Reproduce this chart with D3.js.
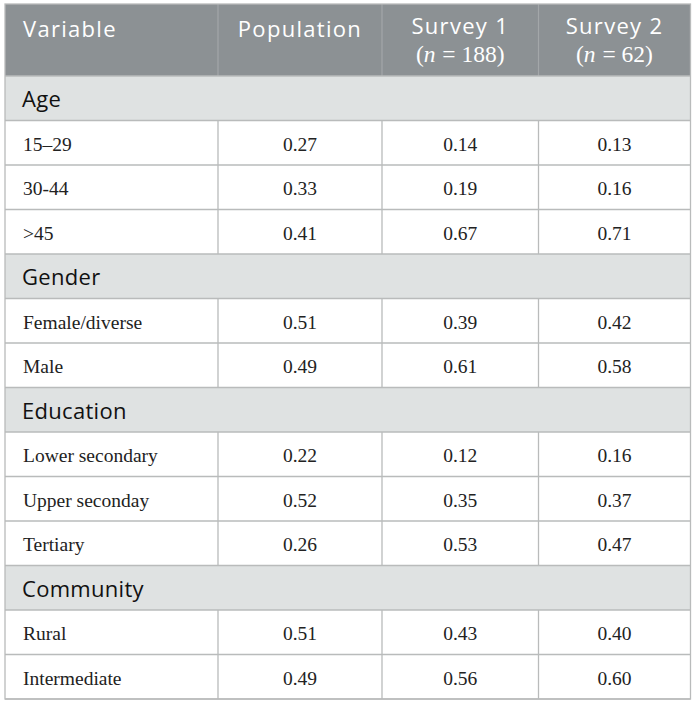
<!DOCTYPE html>
<html><head><meta charset="utf-8">
<script src="https://cdn.jsdelivr.net/npm/d3@7"></script>
<style>body{margin:0;background:#fff}</style>
</head><body>
<svg id="t" width="697" height="706"></svg>
<script>
const columns = ["Variable", "Population", "Survey 1", "Survey 2"];
const columnN = [null, null, 188, 62];
const sections = ["Age", "Gender", "Education", "Community"];
const labels = [
  ["15–29", "30-44", ">45"],
  ["Female/diverse", "Male"],
  ["Lower secondary", "Upper seconday", "Tertiary"],
  ["Rural", "Intermediate"]
];
const population = [[0.27, 0.33, 0.41], [0.51, 0.49], [0.22, 0.52, 0.26], [0.51, 0.49]];
const survey1 = [[0.14, 0.19, 0.67], [0.39, 0.61], [0.12, 0.35, 0.53], [0.43, 0.56]];
const survey2 = [[0.13, 0.16, 0.71], [0.42, 0.58], [0.16, 0.37, 0.47], [0.40, 0.60]];

(function () {
const rows = [];
sections.forEach((s, i) => {
  rows.push({type: "section", label: s});
  labels[i].forEach((l, j) => rows.push({type: "data", label: l, vals: [population[i][j], survey1[i][j], survey2[i][j]]}));
});

const svg = d3.select("#t");
const X0 = 5, X1 = 690.5, Y0 = 4, headH = 72, Y1 = 699;
const colEdges = [X0, 218, 382, 538.5, X1];
const y = d3.scaleBand().domain(d3.range(rows.length)).range([Y0 + headH, Y1]);
const border = "#b9bbbb";
const hsans = "'Open Sans',sans-serif";
const sans = "'Open Sans',sans-serif";
const serif = "'Liberation Serif','DejaVu Serif',serif";
const hs = 22, ls = 1.3;

svg.append("rect").attr("x", X0).attr("y", Y0).attr("width", X1 - X0).attr("height", headH).attr("fill", "#8c9194");
for (let k = 1; k < 4; k++) {
  svg.append("line").attr("x1", colEdges[k]).attr("x2", colEdges[k]).attr("y1", Y0).attr("y2", Y0 + headH)
    .attr("stroke", "#a3a7a9").attr("stroke-width", 1.2);
}
columns.forEach((c, k) => {
  const cx = (colEdges[k] + colEdges[k + 1]) / 2;
  if (k === 0) {
    svg.append("text").attr("x", 23).attr("y", 37).attr("fill", "#fff").attr("font-family", hsans).attr("font-size", hs).attr("letter-spacing", ls).text(c);
  } else if (columnN[k] == null) {
    svg.append("text").attr("x", cx).attr("y", 37).attr("text-anchor", "middle").attr("fill", "#fff").attr("font-family", hsans).attr("font-size", hs).attr("letter-spacing", ls).text(c);
  } else {
    svg.append("text").attr("x", cx).attr("y", 34).attr("text-anchor", "middle").attr("fill", "#fff").attr("font-family", hsans).attr("font-size", hs).attr("letter-spacing", ls).text(c);
    const t = svg.append("text").attr("x", cx).attr("y", 62).attr("text-anchor", "middle").attr("fill", "#fff").attr("font-family", serif).attr("font-size", 23.5);
    t.append("tspan").text("(");
    t.append("tspan").attr("font-style", "italic").text("n");
    t.append("tspan").text(" = " + columnN[k] + ")").attr("dx", 1);
  }
});

rows.forEach((r, i) => {
  const ry = y(i), h = y.bandwidth();
  if (r.type === "section") {
    svg.append("rect").attr("x", X0).attr("y", ry).attr("width", X1 - X0).attr("height", h).attr("fill", "#dfe2e2");
    svg.append("text").attr("x", 22).attr("y", ry + h / 2 + 9).attr("fill", "#111").attr("font-family", sans).attr("font-size", 22).attr("letter-spacing", 0.3).text(r.label);
  } else {
    svg.append("text").attr("x", 23).attr("y", ry + h / 2 + 8).attr("fill", "#222").attr("font-family", serif).attr("font-size", 19.5).text(r.label);
    r.vals.forEach((v, k) => {
      const cx = (colEdges[k + 1] + colEdges[k + 2]) / 2;
      svg.append("text").attr("x", cx).attr("y", ry + h / 2 + 8).attr("text-anchor", "middle").attr("fill", "#222")
        .attr("font-family", serif).attr("font-size", 19.5).text(v.toFixed(2));
    });
    for (let k = 1; k < 4; k++) {
      svg.append("line").attr("x1", colEdges[k]).attr("x2", colEdges[k]).attr("y1", ry).attr("y2", ry + h)
        .attr("stroke", border).attr("stroke-width", 1.3);
    }
  }
  svg.append("line").attr("x1", X0).attr("x2", X1).attr("y1", ry).attr("y2", ry).attr("stroke", border).attr("stroke-width", 1.3);
});
svg.append("line").attr("x1", X0).attr("x2", X1).attr("y1", Y1).attr("y2", Y1).attr("stroke", border).attr("stroke-width", 1.3);
svg.append("rect").attr("x", X0).attr("y", Y0).attr("width", X1 - X0).attr("height", Y1 - Y0)
  .attr("fill", "none").attr("stroke", border).attr("stroke-width", 1.3);
})();
</script>
</body></html>
